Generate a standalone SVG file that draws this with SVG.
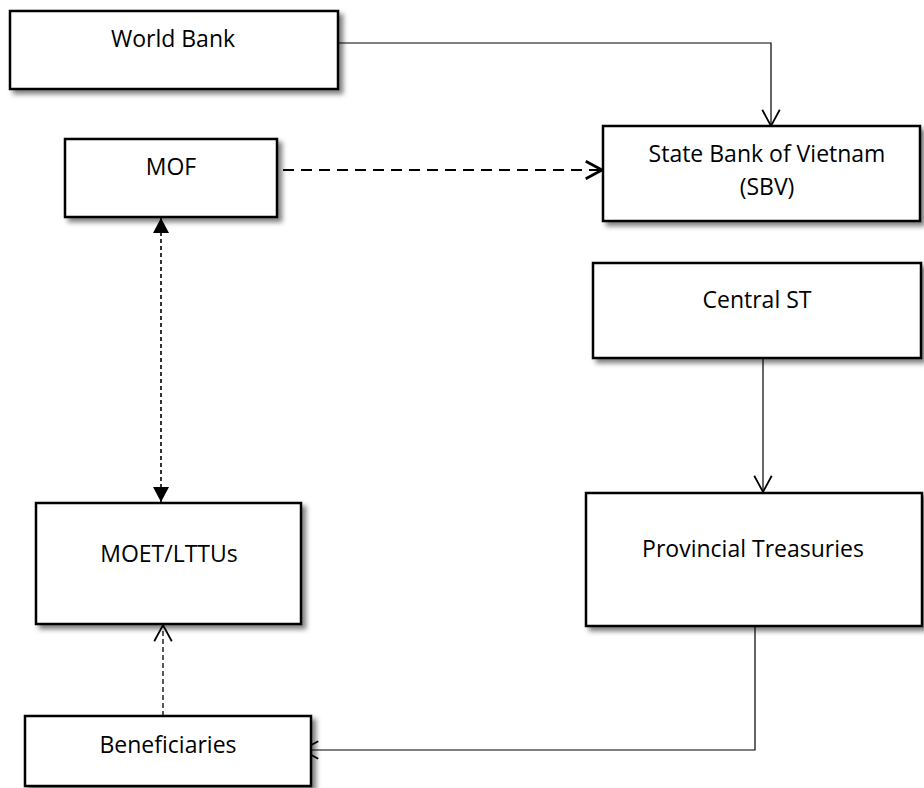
<svg xmlns="http://www.w3.org/2000/svg" width="924" height="788" viewBox="0 0 924 788">
<style>
.box{fill:#fff;stroke:#000;stroke-width:2.5;filter:url(#sh)}
.lbl{font-family:"Open Sans","Liberation Sans",sans-serif;font-size:23px;fill:#000;text-anchor:middle}
.c{fill:none;stroke:#000;stroke-width:1.2}
.d1{stroke-width:2.2;stroke-dasharray:11,7}
.d2{stroke-width:1.6;stroke-dasharray:4,3}
.d3{stroke-width:1.3;stroke-dasharray:5,3}
</style>
<defs>
<filter id="sh" x="-10%" y="-10%" width="130%" height="140%">
<feDropShadow dx="4" dy="4" stdDeviation="2.5" flood-color="#000" flood-opacity="0.5"/>
</filter>
<marker id="open" markerUnits="userSpaceOnUse" markerWidth="20" markerHeight="20" refX="14" refY="8" orient="auto" viewBox="0 0 16 16">
<path d="M1,1 L14,8 L1,15" fill="none" stroke="#000" stroke-width="1.4"/>
</marker>
<marker id="openB" markerUnits="userSpaceOnUse" markerWidth="20" markerHeight="20" refX="14" refY="8" orient="auto" viewBox="0 0 16 16">
<path d="M1,1 L14,8 L1,15" fill="none" stroke="#000" stroke-width="2.2"/>
</marker>
<marker id="tri" markerUnits="userSpaceOnUse" markerWidth="16" markerHeight="16" refX="15" refY="8" orient="auto" viewBox="0 0 16 16">
<path d="M0,0 L15,8 L0,16 Z" fill="#000"/>
</marker>
<marker id="triS" markerUnits="userSpaceOnUse" markerWidth="16" markerHeight="16" refX="1" refY="8" orient="auto" viewBox="0 0 16 16">
<path d="M16,0 L1,8 L16,16 Z" fill="#000"/>
</marker>
</defs>
<g id="connectors">
<path class="c" d="M338,43 H771 V126" marker-end="url(#open)"/>
<path class="c d1" d="M283,170 H602" marker-end="url(#openB)"/>
<path class="c d2" d="M161,218 V502" marker-start="url(#triS)" marker-end="url(#tri)"/>
<path class="c" d="M763,358 V492" marker-end="url(#open)"/>
<path class="c" d="M755,626 V750 H302" marker-end="url(#open)"/>
<path class="c d3" d="M163,716 V625" marker-end="url(#open)"/>
</g>
<g id="world-bank">
<rect class="box" x="10" y="11" width="328" height="78"/>
<text class="lbl" x="173" y="47">World Bank</text>
</g>
<g id="sbv">
<rect class="box" x="603" y="126" width="317" height="95"/>
<text class="lbl" x="767" y="162">State Bank of Vietnam</text>
<text class="lbl" x="767" y="195">(SBV)</text>
</g>
<g id="mof">
<rect class="box" x="65" y="139" width="212" height="78"/>
<text class="lbl" x="171" y="175">MOF</text>
</g>
<g id="central-st">
<rect class="box" x="593" y="263" width="328" height="95"/>
<text class="lbl" x="757" y="308">Central ST</text>
</g>
<g id="moet">
<rect class="box" x="36" y="503" width="265" height="121"/>
<text class="lbl" x="169" y="562">MOET/LTTUs</text>
</g>
<g id="provincial">
<rect class="box" x="586" y="493" width="336" height="133"/>
<text class="lbl" x="753" y="557">Provincial Treasuries</text>
</g>
<g id="beneficiaries">
<rect class="box" x="25" y="716" width="286" height="70"/>
<text class="lbl" x="168" y="753">Beneficiaries</text>
</g>
</svg>
